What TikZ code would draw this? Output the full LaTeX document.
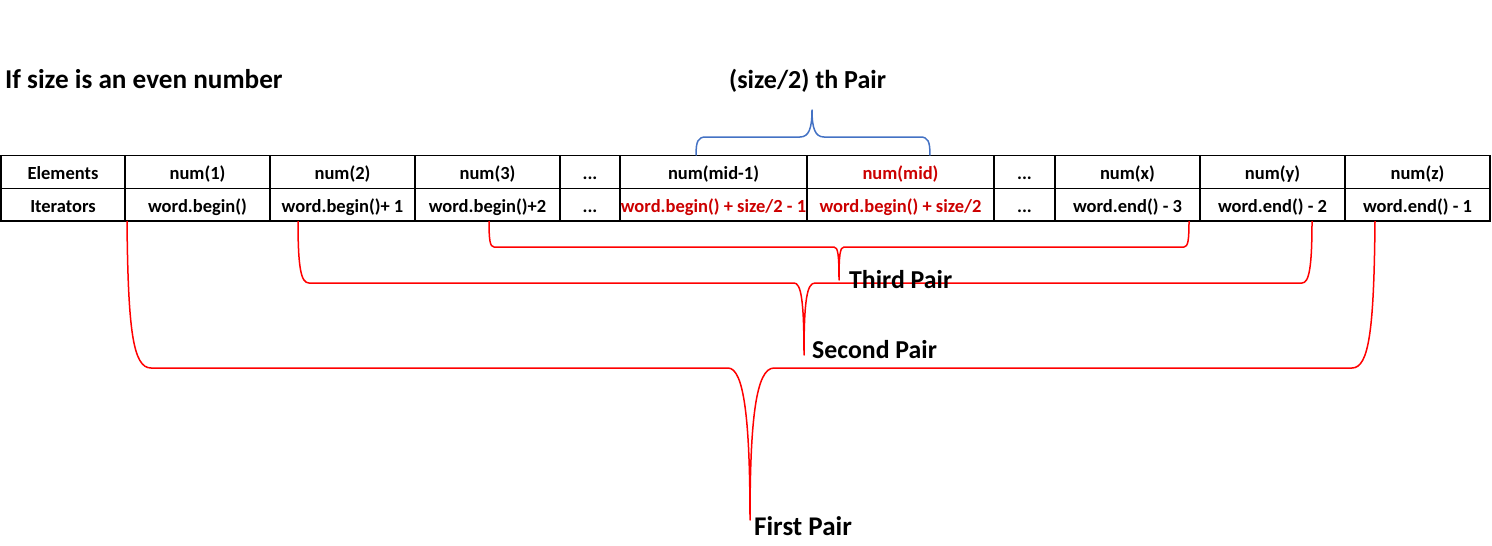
\documentclass[tikz,border=0pt]{standalone}
\usepackage{fontspec}
\setmainfont{Carlito}
\definecolor{bracered}{RGB}{255,0,0}
\definecolor{textred}{RGB}{204,0,0}
\definecolor{braceblue}{RGB}{68,114,196}
\begin{document}
\begin{tikzpicture}[x=1pt,y=-1pt,
  cell/.style={draw=black, line width=1.2pt, minimum height=32.75pt, inner sep=0pt, outer sep=0pt,
    text height=15pt, text depth=0pt, font=\fontsize{18.5}{20}\selectfont\bfseries, anchor=north west},
  redtext/.style={text=textred},
  pairlabel/.style={anchor=base west, inner sep=0pt, font=\fontsize{25.8}{28}\selectfont\bfseries},
  pairline/.style={draw=bracered, line width=1.5pt, line join=round},
  blueline/.style={draw=braceblue, line width=1.5pt, line join=round}]
\useasboundingbox (0,0) rectangle (1492,546);
% title texts
\node[anchor=base west, inner sep=0pt, font=\fontsize{27.2}{30}\selectfont\bfseries] (title) at (5,88) {If size is an even number};
\node[anchor=base west, inner sep=0pt, font=\fontsize{26}{28}\selectfont\bfseries] (half) at (729,88) {(size/2) th Pair};
% table row 1
\node[cell, minimum width=124pt] (e1) at (1,155.5) {Elements};
\node[cell, minimum width=145pt] (e2) at (125,155.5) {num(1)};
\node[cell, minimum width=145pt] (e3) at (270,155.5) {num(2)};
\node[cell, minimum width=145pt] (e4) at (415,155.5) {num(3)};
\node[cell, minimum width=60pt] (e5) at (560,155.5) {...};
\node[cell, minimum width=187pt] (e6) at (620,155.5) {num(mid-1)};
\node[cell, minimum width=187pt, redtext] (e7) at (807,155.5) {num(mid)};
\node[cell, minimum width=61pt] (e8) at (994,155.5) {...};
\node[cell, minimum width=145pt] (e9) at (1055,155.5) {num(x)};
\node[cell, minimum width=145pt] (e10) at (1200,155.5) {num(y)};
\node[cell, minimum width=145pt] (e11) at (1345,155.5) {num(z)};
% table row 2
\node[cell, minimum width=124pt] (i1) at (1,188.25) {Iterators};
\node[cell, minimum width=145pt] (i2) at (125,188.25) {word.begin()};
\node[cell, minimum width=145pt] (i3) at (270,188.25) {word.begin()+ 1};
\node[cell, minimum width=145pt] (i4) at (415,188.25) {word.begin()+2};
\node[cell, minimum width=60pt] (i5) at (560,188.25) {...};
\node[cell, minimum width=187pt, redtext] (i6) at (620,188.25) {word.begin() + size/2 - 1};
\node[cell, minimum width=187pt, redtext] (i7) at (807,188.25) {word.begin() + size/2};
\node[cell, minimum width=61pt] (i8) at (994,188.25) {...};
\node[cell, minimum width=145pt] (i9) at (1055,188.25) {word.end() - 3};
\node[cell, minimum width=145pt] (i10) at (1200,188.25) {word.end() - 2};
\node[cell, minimum width=145pt] (i11) at (1345,188.25) {word.end() - 1};
% blue brace over the middle pair
\coordinate (bl) at (696,155.5);
\coordinate (br) at (930,155.5);
\coordinate (bt) at (812,110);
\draw[blueline] (bl) .. controls (696,141) and (698,137) .. (706,137) -- (800,137)
  .. controls (809,137) and (812,128) .. (bt)
  .. controls (812,128) and (815,137) .. (824,137) -- (920,137)
  .. controls (928,137) and (930,141) .. (br);
% first pair
\coordinate (f1) at (127,221);
\coordinate (f2) at (1375,221);
\coordinate (ft) at (750,520);
\draw[pairline] (f1) .. controls (128,330) and (133,368) .. (151,368) -- (728,368)
  .. controls (744,368) and (750,420) .. (ft)
  .. controls (750,420) and (756,368) .. (774,368) -- (1352,368)
  .. controls (1369,368) and (1374,330) .. (f2);
% second pair
\coordinate (s1) at (298,221);
\coordinate (s2) at (1312,221);
\coordinate (st) at (804,355);
\draw[pairline] (s1) .. controls (298,268) and (301,283) .. (309,283) -- (794,283)
  .. controls (801,283) and (804,300) .. (st)
  .. controls (804,300) and (807,283) .. (815,283) -- (1302,283)
  .. controls (1309,283) and (1312,268) .. (s2);
% third pair
\coordinate (t1) at (489,221);
\coordinate (t2) at (1189,221);
\coordinate (tt) at (839,280);
\draw[pairline] (t1) .. controls (489,240) and (490,247) .. (494,247) -- (834,247)
  .. controls (838,247) and (839,255) .. (tt)
  .. controls (839,255) and (840,247) .. (844,247) -- (1184,247)
  .. controls (1188,247) and (1189,240) .. (t2);
% pair labels
\node[pairlabel] (third) at (849,288) {Third Pair};
\node[pairlabel] (second) at (812,358) {Second Pair};
\node[pairlabel, font=\fontsize{27}{28}\selectfont\bfseries] (first) at (754,535) {First Pair};
\end{tikzpicture}
\end{document}
